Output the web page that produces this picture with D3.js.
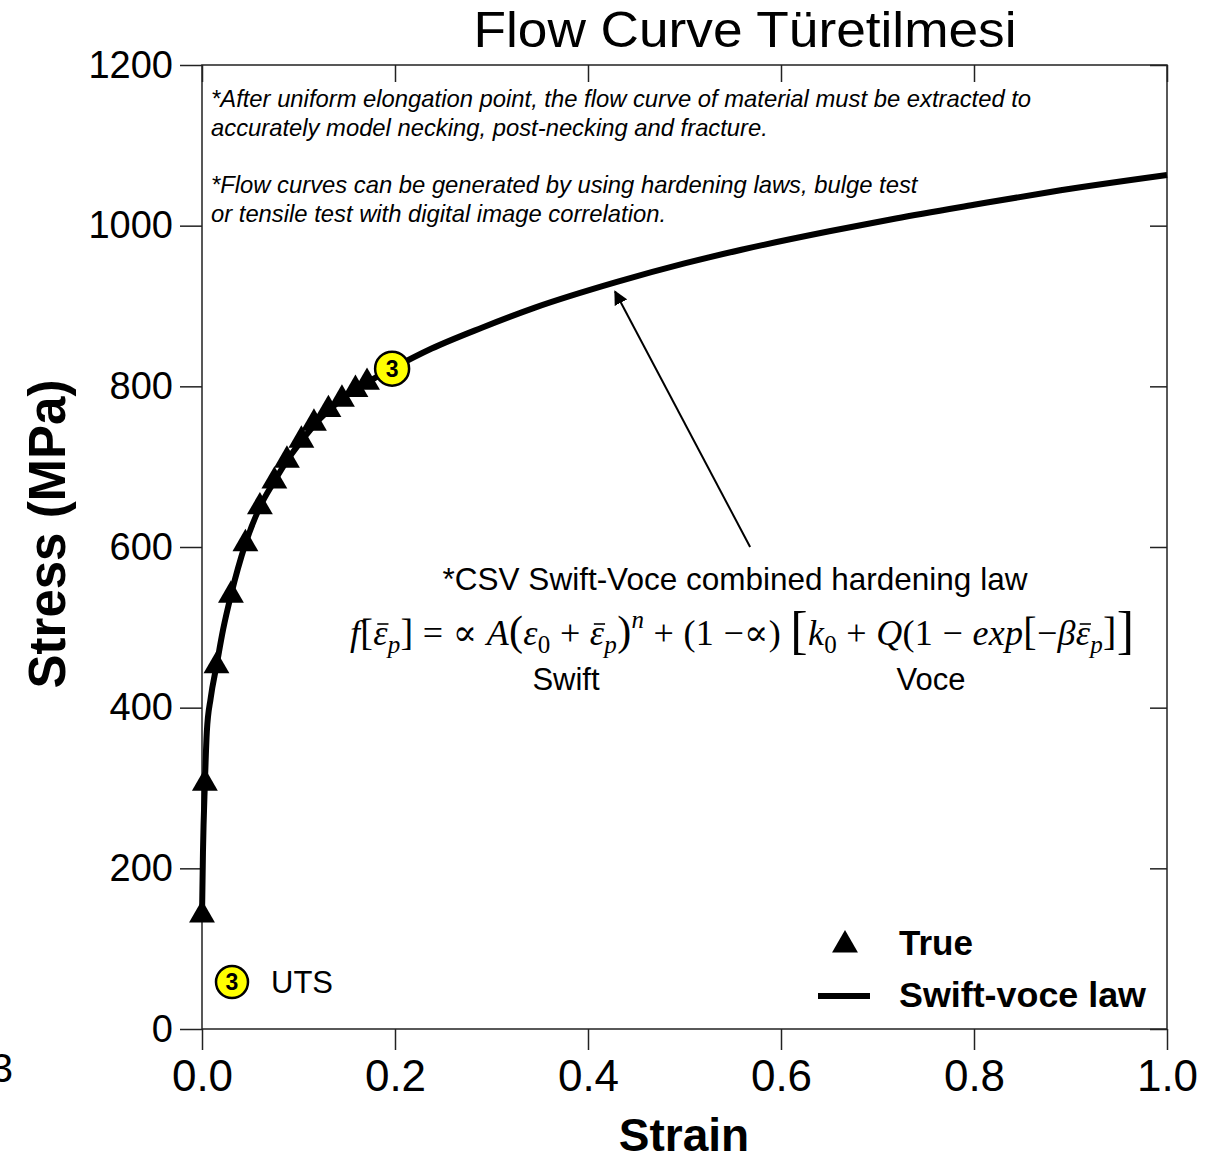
<!DOCTYPE html>
<html>
<head>
<meta charset="utf-8">
<script src="https://cdn.jsdelivr.net/npm/d3@7"></script>
<style>
  body { margin: 0; background: #fff; }
  svg { display: block; font-family: "Liberation Sans", Arial, sans-serif; }
</style>
</head>
<body>
<script>
// values
var strainTicks = [0, 0.2, 0.4, 0.6, 0.8, 1.0];
var stressTicks = [0, 200, 400, 600, 800, 1000, 1200];

var trueStrain = [0, 0.003, 0.015, 0.030, 0.045, 0.060, 0.075, 0.088, 0.103, 0.116, 0.131, 0.145, 0.159, 0.171];
var trueStress = [142, 306, 452, 540, 604, 650, 682, 708, 733, 754, 771, 784, 796, 805];

var lawStrain = [0, 0.001, 0.003, 0.005, 0.009, 0.015, 0.022, 0.030, 0.045, 0.060, 0.075, 0.090, 0.105, 0.120, 0.135, 0.150, 0.170, 0.197, 0.238, 0.290, 0.345, 0.430, 0.500, 0.559, 0.650, 0.719, 0.800, 0.879, 1.0];
var lawStress = [140, 220, 306, 370, 412, 452, 498, 540, 604, 650, 682, 711, 735, 757, 774, 789, 804, 822, 847, 873, 898, 930, 953, 970, 993, 1009, 1026, 1042, 1063];

var utsStrain = 0.197;
var utsStress = 822;

var width = 1227;
var height = 1162;
var margin = { top: 65, right: 60, bottom: 133, left: 202 };

function draw_chart() {
  var svg = d3.select("body")
    .append("svg")
    .attr("width", width)
    .attr("height", height);

  var x = d3.scaleLinear().domain([0, 1]).range([margin.left, width - margin.right]);
  var y = d3.scaleLinear().domain([0, 1200]).range([height - margin.bottom, margin.top]);

  // frame
  svg.append("rect")
    .attr("x", x(0))
    .attr("y", y(1200))
    .attr("width", x(1) - x(0))
    .attr("height", y(0) - y(1200))
    .attr("fill", "none")
    .attr("stroke", "#222")
    .attr("stroke-width", 1.5);

  var bottom = svg.append("g")
    .attr("transform", "translate(0," + y(0) + ")")
    .call(d3.axisBottom(x).tickValues(strainTicks).tickSize(21).tickPadding(10)
      .tickFormat(d3.format(".1f")));
  var left = svg.append("g")
    .attr("transform", "translate(" + x(0) + ",0)")
    .call(d3.axisLeft(y).tickValues(stressTicks).tickSize(22).tickPadding(7)
      .tickFormat(d3.format("d")));
  var top = svg.append("g")
    .attr("transform", "translate(0," + y(1200) + ")")
    .call(d3.axisTop(x).tickValues(strainTicks).tickSize(-17).tickFormat(""));
  var right = svg.append("g")
    .attr("transform", "translate(" + x(1) + ",0)")
    .call(d3.axisRight(y).tickValues(stressTicks).tickSize(-17).tickFormat(""));

  [bottom, left, top, right].forEach(function (g) {
    g.select(".domain").remove();
    g.selectAll("line").attr("stroke", "#222").attr("stroke-width", 1.5);
  });
  bottom.selectAll("text")
    .attr("font-size", 44)
    .attr("fill", "#000")
    .attr("font-family", "Liberation Sans, Arial, sans-serif");
  left.selectAll("text")
    .attr("font-size", 38)
    .attr("fill", "#000")
    .attr("font-family", "Liberation Sans, Arial, sans-serif");

  // axis titles
  svg.append("text")
    .text("Strain")
    .attr("x", 684)
    .attr("y", 1151)
    .attr("text-anchor", "middle")
    .attr("font-size", 46)
    .attr("font-weight", "bold");

  svg.append("text")
    .text("Stress (MPa)")
    .attr("transform", "translate(65,534) rotate(-90)")
    .attr("text-anchor", "middle")
    .attr("font-size", 51)
    .attr("font-weight", "bold");

  svg.append("text")
    .text("Flow Curve Türetilmesi")
    .attr("x", 745)
    .attr("y", 47)
    .attr("text-anchor", "middle")
    .attr("font-size", 50)
    .attr("textLength", 543)
    .attr("lengthAdjust", "spacingAndGlyphs");

  // cut-off slide number at the left edge
  svg.append("text")
    .text("3")
    .attr("x", 13)
    .attr("y", 1082)
    .attr("text-anchor", "end")
    .attr("font-size", 40);

  // flow curve
  var line = d3.line()
    .x(function (d, i) { return x(lawStrain[i]); })
    .y(function (d) { return y(d); })
    .curve(d3.curveMonotoneX);

  svg.append("path")
    .datum(lawStress)
    .attr("d", line)
    .attr("fill", "none")
    .attr("stroke", "#000")
    .attr("stroke-width", 6)
    .attr("stroke-linejoin", "round");

  var tri = d3.symbol().type(d3.symbolTriangle).size(290);

  svg.selectAll(".tri")
    .data(trueStress)
    .enter()
    .append("path")
    .attr("class", "tri")
    .attr("d", tri)
    .attr("transform", function (d, i) {
      return "translate(" + x(trueStrain[i]) + "," + y(d) + ")";
    })
    .attr("fill", "#000");

  // notes
  var notes = [
    "*After uniform elongation point, the flow curve of material must be extracted to",
    "accurately model necking, post-necking and fracture.",
    "",
    "*Flow curves can be generated by using hardening laws, bulge test",
    "or tensile test with digital image correlation."
  ];
  svg.selectAll(".note")
    .data(notes)
    .enter()
    .append("text")
    .attr("class", "note")
    .text(function (d) { return d; })
    .attr("x", 211)
    .attr("y", function (d, i) { return 107 + i * 28.7; })
    .attr("font-size", 23.8)
    .attr("font-style", "italic");

  // arrow to the curve
  svg.append("defs")
    .append("marker")
    .attr("id", "head")
    .attr("viewBox", "0 0 10 10")
    .attr("refX", 9)
    .attr("refY", 5)
    .attr("markerWidth", 7)
    .attr("markerHeight", 7)
    .attr("orient", "auto")
    .append("path")
    .attr("d", "M0,0L10,5L0,10z")
    .attr("fill", "#000");

  svg.append("line")
    .attr("x1", x(0.568))
    .attr("y1", y(600))
    .attr("x2", x(0.428))
    .attr("y2", y(918))
    .attr("stroke", "#000")
    .attr("stroke-width", 2)
    .attr("marker-end", "url(#head)");

  svg.append("text")
    .text("*CSV Swift-Voce combined hardening law")
    .attr("x", 735)
    .attr("y", 590)
    .attr("text-anchor", "middle")
    .attr("font-size", 31.5);

  draw_formula(svg);

  svg.append("text").text("Swift").attr("x", 566).attr("y", 690)
    .attr("text-anchor", "middle").attr("font-size", 31);
  svg.append("text").text("Voce").attr("x", 931).attr("y", 690)
    .attr("text-anchor", "middle").attr("font-size", 31);

  // UTS badge on the curve and in the key
  badge(svg, x(utsStrain), y(utsStress), 17);
  badge(svg, 232, 982, 16);
  svg.append("text").text("UTS").attr("x", 271).attr("y", 993).attr("font-size", 31);

  // legend
  svg.append("path")
    .attr("d", tri)
    .attr("transform", "translate(845,945)")
    .attr("fill", "#000");
  svg.append("text").text("True").attr("x", 899).attr("y", 955)
    .attr("font-size", 35).attr("font-weight", "bold");
  svg.append("line")
    .attr("x1", 818).attr("x2", 870).attr("y1", 996).attr("y2", 996)
    .attr("stroke", "#000").attr("stroke-width", 6);
  svg.append("text").text("Swift-voce law").attr("x", 899).attr("y", 1007)
    .attr("font-size", 35).attr("font-weight", "bold")
    .attr("textLength", 247).attr("lengthAdjust", "spacingAndGlyphs");
}

function badge(svg, cx, cy, r) {
  svg.append("circle")
    .attr("cx", cx).attr("cy", cy).attr("r", r)
    .attr("fill", "#ffff00")
    .attr("stroke", "#000")
    .attr("stroke-width", 2.5);
  svg.append("text")
    .text("3")
    .attr("x", cx).attr("y", cy + 8)
    .attr("text-anchor", "middle")
    .attr("font-size", 23)
    .attr("font-weight", "bold");
}

function draw_formula(svg) {
  // [text, italic, shift, size, overbar]
  var parts = [
    ["f", 1, 0, 36], ["[", 0, 0, 38], ["ε", 1, 0, 36, 1], ["p", 1, 8, 25], ["]", 0, 0, 38],
    [" = ∝ ", 0, 0, 36], ["A", 1, 0, 36], ["(", 0, 0, 42], ["ε", 1, 0, 36], ["0", 0, 8, 25],
    [" + ", 0, 0, 36], ["ε", 1, 0, 36, 1], ["p", 1, 8, 25], [")", 0, 0, 42], ["n", 1, -17, 25],
    [" + (1 −∝) ", 0, 0, 36], ["[", 0, 3, 52], ["k", 1, 0, 36], ["0", 0, 8, 25], [" + ", 0, 0, 36],
    ["Q", 1, 0, 36], ["(1 − ", 0, 0, 36], ["exp", 1, 0, 36], ["[", 0, 0, 40], ["−", 0, 0, 36],
    ["β", 1, 0, 36], ["ε", 1, 0, 36, 1], ["p", 1, 8, 25], ["]", 0, 0, 40], ["]", 0, 3, 52]
  ];
  var t = svg.append("text")
    .attr("x", 742)
    .attr("y", 645)
    .attr("text-anchor", "middle")
    .attr("font-family", "Liberation Serif, DejaVu Serif, serif")
    .attr("textLength", 784)
    .attr("lengthAdjust", "spacing");
  var prev = 0;
  var bars = [];
  parts.forEach(function (p) {
    var s = t.append("tspan")
      .text(p[0])
      .attr("dy", p[2] - prev)
      .attr("font-style", p[1] ? "italic" : "normal")
      .attr("font-size", p[3]);
    if (p[4]) bars.push(s);
    prev = p[2];
  });
  // bar over epsilon, placed from the glyph box
  bars.forEach(function (s) {
    var b = s.node().getExtentOfChar(0);
    svg.append("line")
      .attr("x1", b.x + 4)
      .attr("x2", b.x + b.width + 1)
      .attr("y1", 645 - 21)
      .attr("y2", 645 - 21)
      .attr("stroke", "#000")
      .attr("stroke-width", 1.6);
  });
}

draw_chart();
</script>
</body>
</html>
